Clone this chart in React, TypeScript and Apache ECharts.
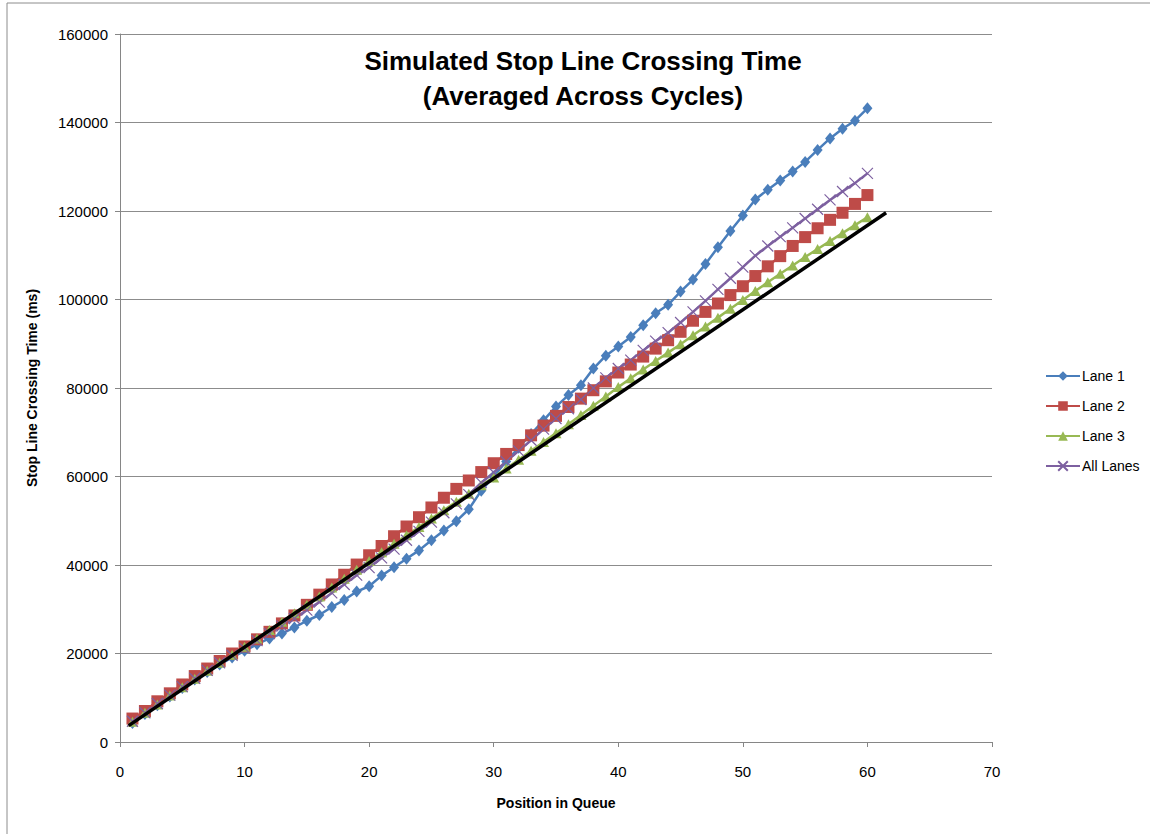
import React, { useEffect, useRef } from "react";
import * as echarts from "echarts";

const positions = Array.from({ length: 60 }, (_, i) => i + 1);

const lane1 = [
  4300, 6300, 8300, 10300, 12200, 14100, 15800, 17500, 19100, 20600,
  22100, 23400, 24500, 25900, 27400, 28700, 30500, 32100, 34000, 35200,
  37600, 39500, 41400, 43300, 45600, 47800, 49900, 52600, 56800, 60000,
  63400, 66500, 69600, 72700, 75800, 78400, 80600, 84400, 87300, 89400,
  91500, 94200, 96900, 98800, 101800, 104500, 108000, 111800, 115500, 119000,
  122600, 124800, 126900, 128900, 131100, 133800, 136400, 138600, 140400, 143200,
];

const lane2 = [
  5300, 7000, 9200, 11000, 13000, 14900, 16600, 18300, 20000, 21600,
  23200, 24900, 26800, 28600, 31000, 33300, 35600, 37800, 40100, 42200,
  44300, 46500, 48700, 50800, 53000, 55200, 57200, 59100, 61000, 63000,
  65100, 67100, 69300, 71500, 73700, 75700, 77600, 79500, 81500, 83500,
  85300, 87100, 88900, 90800, 92700, 95200, 97200, 99100, 101000, 103000,
  105300, 107500, 109800, 112100, 114100, 116100, 118000, 119600, 121600, 123600,
];

const lane3 = [
  4600, 6600, 8500, 10500, 12400, 14300, 16100, 17900, 19700, 21500,
  23400, 25300, 27200, 29100, 31000, 32900, 34900, 36900, 38900, 40900,
  42900, 44800, 46700, 48600, 50500, 52400, 54300, 56100, 58000, 59800,
  61800, 63800, 65800, 67800, 69800, 71800, 73900, 76000, 78100, 80200,
  82200, 84200, 86100, 88000, 89900, 91900, 93900, 95900, 97900, 99900,
  101900, 103900, 105800, 107700, 109600, 111400, 113200, 115000, 116800, 118600,
];

const allLanes = [
  4700, 6600, 8700, 10600, 12500, 14400, 16200, 17900, 19600, 21200,
  22900, 24500, 26200, 27900, 29800, 31600, 33700, 35600, 37700, 39400,
  41600, 43600, 45600, 47600, 49700, 51800, 53800, 55900, 58600, 60900,
  63400, 65800, 68200, 70700, 73100, 75300, 77400, 80000, 82300, 84400,
  86300, 88500, 90600, 92500, 94800, 97200, 99700, 102300, 104800, 107300,
  109900, 112100, 114200, 116200, 118300, 120400, 122500, 124400, 126300, 128500,
];

// trend line end points (x, y)
const trendX = [0.7, 61.5];
const trendY = [3700, 119600];

const seriesNames = ["Lane 1", "Lane 2", "Lane 3", "All Lanes"];
const xTicks = { min: 0, max: 70, interval: 10 };
const yTicks = { min: 0, max: 160000, interval: 20000 };
const titleLines = ["Simulated Stop Line Crossing Time", "(Averaged Across Cycles)"];
const xTitle = "Position in Queue";
const yTitle = "Stop Line Crossing Time (ms)";

const pair = (vals: number[]) => positions.map((p, i) => [p, vals[i]]);

export default function App() {
  const ref = useRef<HTMLDivElement>(null);
  useEffect(() => {
    if (!ref.current) return;
    const chart = echarts.init(ref.current, undefined, { renderer: "svg" });
    const font = "'Liberation Sans', Arial, sans-serif";
    const lineW = 2.5;
    const titleFont = `bold 26px 'Liberation Sans Narrow', 'Liberation Sans', Arial, sans-serif`;
    chart.setOption({
      animation: false,
      backgroundColor: "#ffffff",
      textStyle: { fontFamily: font },
      grid: { left: 120, right: 158, top: 34, bottom: 92, containLabel: false },
      graphic: [
        {
          type: "rect",
          shape: { x: 7, y: 3, width: 1160, height: 850 },
          style: { fill: "none", stroke: "#8c8c8c", lineWidth: 1 },
          silent: true,
          z: -10,
        },
        {
          type: "text",
          x: 583,
          y: 61,
          style: { text: titleLines[0], fill: "#000", font: titleFont, textAlign: "center", textVerticalAlign: "middle" },
          z: 10,
        },
        {
          type: "text",
          x: 583,
          y: 96,
          style: { text: titleLines[1], fill: "#000", font: titleFont, textAlign: "center", textVerticalAlign: "middle" },
          z: 10,
        },
      ],
      legend: {
        data: seriesNames,
        orient: "vertical",
        left: 1040,
        top: 364,
        itemWidth: 34,
        itemHeight: 12,
        itemGap: 16,
        textStyle: { fontSize: 14, color: "#000", fontFamily: font, padding: [0, 0, 0, -3] },
      },
      xAxis: {
        type: "value",
        min: xTicks.min,
        max: xTicks.max,
        interval: xTicks.interval,
        name: xTitle,
        nameLocation: "middle",
        nameGap: 54,
        nameTextStyle: { fontSize: 14, fontWeight: "bold", color: "#000", fontFamily: font },
        axisLine: { show: true, lineStyle: { color: "#868686", width: 1 } },
        axisTick: { show: true, inside: false, length: 5, lineStyle: { color: "#868686" } },
        axisLabel: { fontSize: 15, color: "#000", margin: 22, fontFamily: font },
        splitLine: { show: false },
      },
      yAxis: {
        type: "value",
        min: yTicks.min,
        max: yTicks.max,
        interval: yTicks.interval,
        name: yTitle,
        nameLocation: "middle",
        nameGap: 81,
        nameRotate: 90,
        nameTextStyle: { fontSize: 14, fontWeight: "bold", color: "#000", fontFamily: font },
        axisLine: { show: true, lineStyle: { color: "#868686", width: 1 } },
        axisTick: { show: true, inside: false, length: 5, lineStyle: { color: "#868686" } },
        axisLabel: { fontSize: 15, color: "#000", margin: 12, fontFamily: font, formatter: (v: number) => String(v) },
        splitLine: { show: true, lineStyle: { color: "#8c8c8c", width: 1 } },
      },
      series: [
        {
          name: seriesNames[0],
          type: "line",
          data: pair(lane1),
          symbol: "diamond",
          symbolSize: [10, 12],
          lineStyle: { color: "#4A7EBB", width: lineW },
          itemStyle: { color: "#4A7EBB" },
        },
        {
          name: seriesNames[1],
          type: "line",
          data: pair(lane2),
          symbol: "rect",
          symbolSize: 12,
          lineStyle: { color: "#BE4B48", width: lineW },
          itemStyle: { color: "#BE4B48" },
        },
        {
          name: seriesNames[2],
          type: "line",
          data: pair(lane3),
          symbol: "triangle",
          symbolSize: [11, 10],
          lineStyle: { color: "#98B954", width: lineW },
          itemStyle: { color: "#98B954" },
        },
        {
          name: seriesNames[3],
          type: "line",
          data: pair(allLanes),
          symbol: "path://M0,0L10,10M10,0L0,10",
          symbolSize: 11,
          lineStyle: { color: "#7D60A0", width: lineW },
          itemStyle: { color: "#7D60A0", borderColor: "#7D60A0", borderWidth: 1.2 },
        },
        {
          name: "Trend",
          type: "line",
          data: trendX.map((x, i) => [x, trendY[i]]),
          symbol: "none",
          lineStyle: { color: "#000000", width: 3.5 },
          z: 5,
        },
      ],
    });
    return () => chart.dispose();
  }, []);
  return (
    <div
      ref={ref}
      style={{ position: "fixed", left: 0, top: 0, width: 1150, height: 834, background: "#fff" }}
    />
  );
}
